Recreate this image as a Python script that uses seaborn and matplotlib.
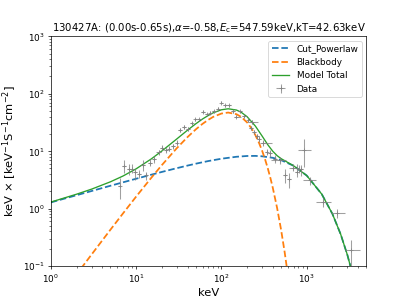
import numpy as np
import pandas as pd
import matplotlib
matplotlib.use('Agg')
import matplotlib.pyplot as plt
import seaborn as sns

# model curves (keV, keV x N(E))
cpl_energy = [1, 2, 3, 5, 7, 10, 15, 20, 30, 40, 50, 70, 100, 150, 200, 250,
              300, 400, 500, 700, 1000, 1500, 2000, 2500, 3000, 3500]
cpl_flux = [1.278, 1.706, 2.019, 2.495, 2.861, 3.306, 3.881, 4.341, 5.053, 5.600,
            6.041, 6.717, 7.377, 7.979, 8.234, 8.263, 8.127, 7.651, 6.978, 5.573,
            3.753, 1.783, 0.8085, 0.3568, 0.1546, 0.0662]

bb_energy = [1, 2, 3, 5, 7, 10, 15, 20, 30, 40, 50, 60, 70, 80, 100, 120, 150,
             170, 200, 225, 250, 275, 300, 325, 350, 375, 400, 450, 500, 550, 600]
bb_flux = [0.018, 0.0711, 0.158, 0.429, 0.820, 1.615, 3.416, 5.705, 11.29, 17.56,
           23.92, 29.89, 35.1, 39.53, 45.2, 47.03, 44.0, 39.63, 31.6, 24.94, 19.0,
           14.05, 10.15, 7.17, 4.98, 3.405, 2.30, 1.013, 0.430, 0.177, 0.0712]

total_energy = [1, 2, 3, 5, 7, 10, 15, 20, 30, 40, 50, 60, 70, 80, 100, 120, 150,
                170, 200, 250, 300, 350, 400, 450, 500, 600, 700, 1000, 1500, 2000,
                2500, 3000, 3500]
total_flux = [1.296, 1.777, 2.177, 2.924, 3.681, 4.921, 7.297, 10.05, 16.34, 23.16,
              29.96, 36.3, 41.8, 46.5, 52.6, 54.7, 52.0, 47.7, 39.8, 27.3, 18.3,
              12.89, 9.95, 8.33, 7.41, 6.35, 5.57, 3.753, 1.783, 0.8085, 0.3568,
              0.1546, 0.0662]

# data points: energy, energy bin edges, flux and flux bounds
data_energy = [6.4, 7.2, 8.2, 8.85, 9.8, 10.9, 12.1, 13.2, 14.7, 16.3, 18.3, 20.0,
               22.3, 24.5, 27.2, 29.8, 32.9, 36.2, 40.4, 44.6, 49.6, 54.9, 60.4,
               67.3, 74.3, 82.2, 90.5, 100, 111, 123, 136, 149, 165, 185, 207, 226,
               221, 243, 259, 278, 310, 339, 375, 425, 486, 560, 619, 685, 760, 820,
               855, 935, 1100, 1560, 2290, 3340]
data_e_lo = [6.1, 6.9, 7.8, 8.6, 9.3, 10.3, 11.5, 12.7, 13.9, 15.5, 17.2, 19.2,
             21.0, 23.3, 25.8, 28.4, 31.3, 34.5, 38.4, 42.4, 47.1, 52.2, 57.4,
             64.0, 70.6, 78.1, 86.0, 95, 105, 117, 129, 140, 157, 176, 197, 207,
             210, 231, 246, 264, 281, 322, 356, 404, 383, 532, 590, 620, 722, 779,
             812, 800, 915, 1300, 1910, 2800]
data_e_hi = [6.7, 7.5, 8.6, 9.2, 10.3, 11.5, 12.7, 13.8, 15.5, 17.2, 19.4, 21.0,
             23.6, 25.8, 28.6, 31.3, 34.5, 38.0, 42.4, 46.8, 52.1, 57.6, 63.4,
             70.7, 78.0, 86.3, 95.0, 105, 117, 129, 143, 170, 173, 194, 217, 270,
             232, 255, 272, 292, 394, 356, 394, 446, 575, 590, 650, 760, 798, 860,
             898, 1120, 1290, 1930, 2800, 4200]
data_flux = [2.45, 5.47, 4.93, 4.93, 4.30, 4.03, 5.63, 3.77, 6.28, 7.17, 9.6, 11.5,
             10.4, 11.0, 12.2, 14.0, 23.2, 26.7, 24.6, 30.4, 35.7, 35.7, 48.7, 43.7,
             46.8, 49.9, 54.9, 70.0, 62.8, 62.8, 49.9, 39.5, 49.5, 40.5, 34.8, 32.1,
             25.6, 21.5, 18.3, 16.4, 14.0, 9.8, 9.1, 7.4, 7.0, 3.9, 3.25, 5.1, 4.3,
             4.9, 4.8, 10.4, 3.1, 1.29, 0.82, 0.19]
data_f_lo = [1.44, 4.08, 3.9, 4.1, 3.2, 3.4, 4.5, 3.2, 5.4, 6.3, 8.6, 10.3, 9.4,
             9.9, 11.0, 12.6, 21.3, 24.6, 22.6, 28.2, 33.4, 33.4, 45.8, 41.0, 44.0,
             47.0, 51.8, 66.2, 59.3, 59.3, 47.0, 37.1, 46.5, 38.0, 32.5, 29.8, 23.6,
             19.6, 16.5, 14.6, 12.3, 8.5, 7.9, 6.3, 6.0, 2.8, 2.3, 4.5, 3.5, 4.1,
             3.7, 5.2, 2.6, 1.05, 0.68, 0.05]
data_f_hi = [3.47, 6.9, 5.9, 5.9, 4.8, 4.7, 7.1, 4.4, 7.2, 8.1, 10.6, 12.7, 11.5,
             12.1, 13.5, 15.4, 25.2, 28.8, 26.6, 32.6, 38.0, 38.0, 51.6, 46.4, 49.6,
             52.8, 58.0, 73.8, 66.3, 66.3, 52.8, 41.9, 52.5, 43.0, 37.1, 34.4, 27.6,
             23.4, 20.1, 18.2, 15.7, 11.1, 10.3, 8.5, 8.0, 4.8, 4.2, 6.0, 5.9, 5.8,
             5.85, 16.0, 3.6, 1.55, 0.98, 0.28]

cpl = pd.DataFrame({'E': cpl_energy, 'flux': cpl_flux})
bb = pd.DataFrame({'E': bb_energy, 'flux': bb_flux})
total = pd.DataFrame({'E': total_energy, 'flux': total_flux})

E = np.array(data_energy)
F = np.array(data_flux)
xerr = [E - np.array(data_e_lo), np.array(data_e_hi) - E]
yerr = [F - np.array(data_f_lo), np.array(data_f_hi) - F]

fig, ax = plt.subplots(figsize=(6.4, 4.8), dpi=63.6)
fig.subplots_adjust(bottom=0.128)

sns.lineplot(data=cpl, x='E', y='flux', ax=ax, color='C0', linestyle='--',
             linewidth=2, label='Cut_Powerlaw')
sns.lineplot(data=bb, x='E', y='flux', ax=ax, color='C1', linestyle='--',
             linewidth=2, label='Blackbody')
sns.lineplot(data=total, x='E', y='flux', ax=ax, color='C2', linestyle='-',
             linewidth=1.5, label='Model Total')
ax.errorbar(E, F, xerr=xerr, yerr=yerr, fmt='+', color='grey', alpha=0.75,
            elinewidth=1.2, markersize=5, label='Data')

ax.set_xscale('log')
ax.set_yscale('log')
ax.set_xlim(1, 5000)
ax.set_ylim(0.1, 1000)
ax.set_xlabel('keV', fontsize=13)
ax.set_ylabel(r'keV $\times$ [keV$^{-1}$S$^{-1}$cm$^{-2}$]', fontsize=13)
ax.set_title(r'130427A: (0.00s-0.65s),$\alpha$=-0.58,$E_{\rm c}$=547.59keV,kT=42.63keV',
             fontsize=11.5)
ax.legend(loc='upper right')

fig.savefig('out.png', dpi=63.6)
